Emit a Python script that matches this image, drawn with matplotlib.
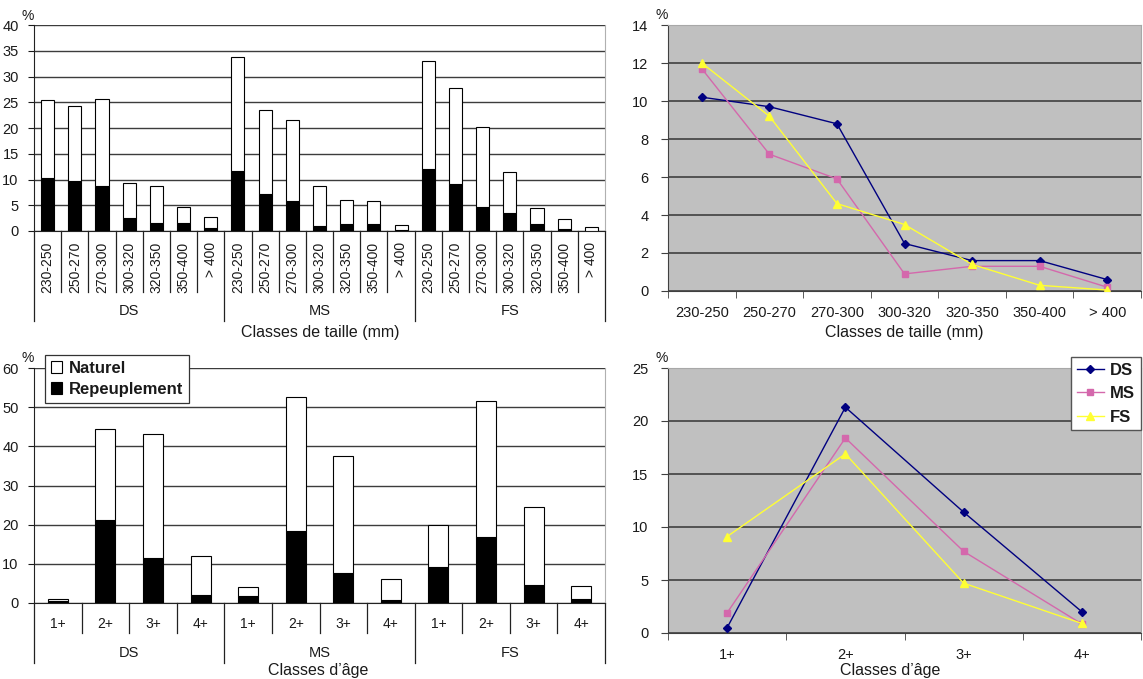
import matplotlib
matplotlib.use('Agg')
import matplotlib.pyplot as plt
from matplotlib.patches import Patch
from matplotlib.lines import Line2D

plt.rcParams['font.family'] = ['Liberation Sans', 'DejaVu Sans']
plt.rcParams['text.color'] = '#1a1a1a'
plt.rcParams['xtick.color'] = '#1a1a1a'
plt.rcParams['ytick.color'] = '#1a1a1a'

# ---------------- data ----------------
sites = ['DS', 'MS', 'FS']
size_classes = ['230-250', '250-270', '270-300', '300-320', '320-350', '350-400', '> 400']
age_classes = ['1+', '2+', '3+', '4+']

# size classes: repeuplement (black) and naturel (white) parts, %
size_rep_DS = [10.2, 9.7, 8.8, 2.5, 1.6, 1.6, 0.6]
size_rep_MS = [11.7, 7.2, 5.9, 0.9, 1.3, 1.3, 0.2]
size_rep_FS = [12.0, 9.2, 4.6, 3.5, 1.4, 0.3, 0.05]
size_nat_DS = [15.2, 14.5, 16.9, 6.9, 7.2, 3.0, 2.2]
size_nat_MS = [22.1, 16.3, 15.7, 7.9, 4.7, 4.5, 0.9]
size_nat_FS = [21.0, 18.5, 15.5, 8.0, 3.0, 2.0, 0.75]

# age classes
age_rep_DS = [0.5, 21.3, 11.4, 2.0]
age_rep_MS = [1.9, 18.4, 7.7, 0.85]
age_rep_FS = [9.1, 16.9, 4.7, 0.9]
age_nat_DS = [0.5, 23.2, 31.7, 9.9]
age_nat_MS = [2.3, 34.1, 29.8, 5.35]
age_nat_FS = [10.9, 34.8, 19.7, 3.5]

line_colors = ['#000080', '#d468ac', '#ffff33']
line_markers = ['D', 's', '^']
line_msizes = [4, 5, 6]

# ---------------- figure ----------------
W, H = 1143, 679
fig = plt.figure(figsize=(W / 100, H / 100), dpi=100)


def box(x0, y0, x1, y1):
    return [x0 / W, 1 - y1 / H, (x1 - x0) / W, (y1 - y0) / H]


def ftext(xp, yp, s, **kw):
    fig.text(xp / W, 1 - yp / H, s, **kw)


def bar_panel(rect, cats, reps, nats, ymax, ystep, width, rotate, tick_pad,
              sep_px, grp_px, grp_lab_px, xlabel, xlab_pos, pct_pos):
    ax = fig.add_axes(box(*rect))
    axh = rect[3] - rect[1]
    n = len(cats)
    labels = []
    xs = []
    rep_all = []
    nat_all = []
    for g in range(3):
        for i in range(n):
            xs.append(g * n + i)
            labels.append(cats[i])
            rep_all.append(reps[g][i])
            nat_all.append(nats[g][i])
    ax.bar(xs, rep_all, width, color='black', edgecolor='black', lw=0.8, zorder=3)
    ax.bar(xs, nat_all, width, bottom=rep_all, color='white', edgecolor='black',
           lw=0.8, zorder=3)
    ax.set_xlim(-0.5, 3 * n - 0.5)
    ax.set_ylim(0, ymax)
    ax.set_yticks(range(0, ymax + 1, ystep))
    ax.yaxis.grid(True, color='#3c3c3c', lw=1.0)
    ax.set_axisbelow(True)
    ax.spines['top'].set_visible(False)
    ax.spines['right'].set_color('#b0b0b0')
    ax.spines['left'].set_color('#222222')
    ax.spines['bottom'].set_color('#222222')
    ax.tick_params(axis='y', direction='out', length=4, labelsize=10.5, pad=7)
    ax.set_xticks(xs)
    if rotate:
        ax.set_xticklabels(labels, rotation=90, fontsize=10)
    else:
        ax.set_xticklabels(labels, fontsize=10)
    ax.tick_params(axis='x', length=0, pad=tick_pad)
    tr = ax.get_xaxis_transform()
    for b in range(3 * n + 1):
        xb = b - 0.5
        depth = grp_px if b % n == 0 else sep_px
        ax.plot([xb, xb], [0, -depth / axh], transform=tr, clip_on=False,
                color='#222222', lw=0.9)
    for g in range(3):
        ax.text(g * n + (n - 1) / 2, -grp_lab_px / axh, sites[g], transform=tr,
                ha='center', va='center', fontsize=10.5)
    ftext(xlab_pos[0], xlab_pos[1], xlabel, ha='center', va='center', fontsize=11.5)
    ftext(pct_pos[0], pct_pos[1], '%', ha='center', va='center', fontsize=10)
    return ax


def line_panel(rect, cats, series, ymax, ystep, xlabel, xlab_pos, pct_pos):
    ax = fig.add_axes(box(*rect))
    ax.set_facecolor('#c0c0c0')
    n = len(cats)
    xs = list(range(n))
    for name, vals, c, m, ms in zip(sites, series, line_colors, line_markers, line_msizes):
        ax.plot(xs, vals, color=c, lw=1.0, marker=m, ms=ms, mfc=c, mec=c,
                label=name, zorder=3)
    ax.set_xlim(-0.5, n - 0.5)
    ax.set_ylim(0, ymax)
    ax.set_yticks(range(0, ymax + 1, ystep))
    ax.yaxis.grid(True, color='#4a4a4a', lw=1.3)
    ax.set_axisbelow(True)
    ax.set_xticks(xs)
    ax.set_xticklabels(cats, fontsize=10.5)
    ax.set_xticks([i - 0.5 for i in range(n + 1)], minor=True)
    ax.tick_params(axis='x', which='major', length=0, pad=11)
    ax.tick_params(axis='x', which='minor', length=5, direction='out', color='#404040')
    ax.tick_params(axis='y', length=5, direction='out', color='#404040', labelsize=10.5, pad=9)
    ax.spines['left'].set_color('#404040')
    ax.spines['bottom'].set_color('#404040')
    ax.spines['top'].set_color('#a8a8a8')
    ax.spines['right'].set_color('#a8a8a8')
    ftext(xlab_pos[0], xlab_pos[1], xlabel, ha='center', va='center', fontsize=11.5)
    ftext(pct_pos[0], pct_pos[1], '%', ha='center', va='center', fontsize=10)
    return ax


# top-left: size classes stacked bars
bar_panel((34, 25, 605, 231), size_classes,
          [size_rep_DS, size_rep_MS, size_rep_FS],
          [size_nat_DS, size_nat_MS, size_nat_FS],
          40, 5, 0.48, True, 8,
          61, 90, 80, 'Classes de taille (mm)', (320, 333), (28, 16))

# bottom-left: age classes stacked bars
axbl = bar_panel((34, 368, 605, 603), age_classes,
                 [age_rep_DS, age_rep_MS, age_rep_FS],
                 [age_nat_DS, age_nat_MS, age_nat_FS],
                 60, 10, 0.42, False, 10,
                 30, 60, 50, 'Classes d\u2019\u00e2ge', (318, 671), (28, 358))
leg_handles = [Patch(facecolor='white', edgecolor='black', lw=0.8, label='Naturel'),
               Patch(facecolor='black', edgecolor='black', lw=0.8, label='Repeuplement')]
leg = fig.legend(handles=leg_handles, loc='upper left',
                 bbox_to_anchor=(45 / W, 1 - 355 / H), frameon=True, fancybox=False,
                 edgecolor='#333333', framealpha=1, borderaxespad=0,
                 prop={'weight': 'bold', 'size': 12}, handlelength=0.7, handleheight=0.7,
                 handletextpad=0.4, borderpad=0.35, labelspacing=0.35)
leg.get_frame().set_linewidth(0.9)

# top-right: size classes lines
line_panel((668, 25, 1141, 291), size_classes,
           [size_rep_DS, size_rep_MS, size_rep_FS], 14, 2,
           'Classes de taille (mm)', (904, 333), (662, 15))

# bottom-right: age classes lines
axbr = line_panel((668, 368, 1141, 633), age_classes,
                  [age_rep_DS, age_rep_MS, age_rep_FS], 25, 5,
                  'Classes d\u2019\u00e2ge', (890, 671), (662, 358))
leg2 = fig.legend(*axbr.get_legend_handles_labels(), loc='upper right',
                  bbox_to_anchor=(1141 / W, 1 - 357 / H), frameon=True, fancybox=False,
                  edgecolor='#555555', framealpha=1, borderaxespad=0,
                  prop={'weight': 'bold', 'size': 12}, handlelength=1.6,
                  handletextpad=0.4, borderpad=0.35, labelspacing=0.5)
leg2.get_frame().set_linewidth(1.0)

fig.savefig('out.png', dpi=100)
